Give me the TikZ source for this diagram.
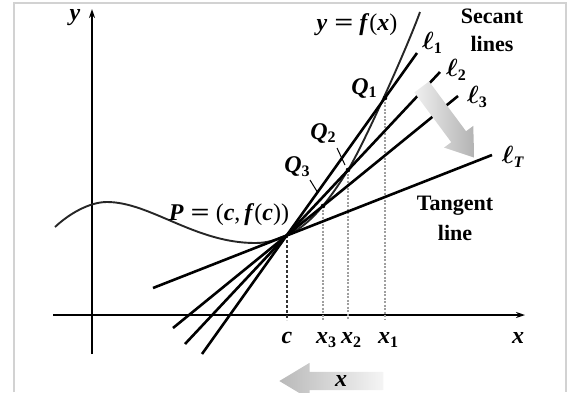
\documentclass[tikz,border=0pt]{standalone}
\usepackage{graphicx}
\usepackage{fontspec}
\setmainfont{Liberation Serif}
\usetikzlibrary{arrows.meta,shapes.arrows}
\newcommand{\mv}[1]{\textbf{\textit{#1}}}
\newcommand{\sbs}[1]{\raisebox{-0.35ex}{\fontsize{16}{16}\selectfont\textbf{#1}}}
\newcommand{\ellv}{{\boldmath$\ell$}}
\newcommand{\eqs}{\hspace{7pt}\scalebox{1.4}[1]{\textbf{=}}\hspace{6pt}}
\begin{document}
\begin{tikzpicture}[x=1pt,y=-1pt,font=\fontsize{24}{28}\selectfont,
  secant/.style={line width=2.6pt,black},
  axisline/.style={line width=1.7pt,black,-{Stealth[length=9pt,width=6pt]}},
  guide/.style={gray!75,line width=1.1pt,dash pattern=on 2pt off 1.5pt},
  cguide/.style={gray!40!black,line width=1.6pt,dash pattern=on 3pt off 2pt},
  curve/.style={gray!30!black,line width=1.9pt},
  lbl/.style={inner sep=0pt,font=\fontsize{24}{28}\selectfont},
  bigarrow/.style={single arrow,draw=none,inner sep=9pt,shade}]
\useasboundingbox (0,0) rectangle (579,392);
% frame
\draw[gray!35,line width=1.2pt] (14,392) -- (14,3) -- (566,3) -- (566,392);
% coordinates
\coordinate (P) at (287,235);
\coordinate (Q1) at (385,98);
\coordinate (Q2) at (348,170);
\coordinate (Q3) at (323,206);
\coordinate (fc) at (287,320);
\coordinate (f1) at (385,320);
\coordinate (f2) at (348,320);
\coordinate (f3) at (323,320);
\coordinate (xs) at (53,315);
\coordinate (xe) at (525,315);
\coordinate (ys) at (92,354);
\coordinate (ye) at (92,9);
\coordinate (l1a) at (202,354);
\coordinate (l1b) at (417,53);
\coordinate (l2a) at (185,344);
\coordinate (l2b) at (440,72);
\coordinate (l3a) at (173,328);
\coordinate (l3b) at (458,96);
\coordinate (lTa) at (153,288);
\coordinate (lTb) at (492,155);
% axes
\draw[axisline] (xs) -- (xe);
\draw[axisline] (ys) -- (ye);
% guides
\draw[cguide] (P) -- (fc);
\draw[guide] (Q1) -- (f1);
\draw[guide] (Q2) -- (f2);
\draw[guide] (Q3) -- (f3);
% curve
\draw[curve] (55,227) .. controls (70,213) and (90,202) .. (107,202)
  .. controls (150,202) and (195,243) .. (255,243)
  .. controls (268,243) and (274,240.1) .. (P)
  .. controls (312,225.2) and (333,194) .. (Q2)
  .. controls (363,146) and (408,45.6) .. (420,12);
% secant and tangent lines
\draw[secant] (l1a) -- (l1b);
\draw[secant] (l2a) -- (l2b);
\draw[secant] (l3a) -- (l3b);
\draw[secant] (lTa) -- (lTb);
% points
\fill (Q1) circle (2.3pt);
\fill (Q2) circle (2.3pt);
\fill (Q3) circle (2.3pt);
% big arrows
\node[bigarrow,name=sweep,left color=gray!12,right color=gray!60,
  minimum height=88pt,single arrow head extend=9pt,single arrow tip angle=70,
  rotate=-53.4] at (444,117) {};
\node[bigarrow,name=xmove,left color=gray!55,right color=gray!8,
  minimum height=104pt,single arrow head extend=9pt,single arrow tip angle=62,
  shape border rotate=180] at (339,381) {};
\node[lbl] (xmovelbl) at (341,381) {\mv{x}};
% labels
\node[lbl] (ylbl) at (75,18) {\mv{y}};
\node[lbl] (xlbl) at (518,338) {\mv{x}};
\node[lbl] (flbl) at (357,25) {\mv{y}\eqs\mv{f}(\mv{x})};
\node[lbl,align=center,font=\fontsize{22}{28}\selectfont\bfseries] (seclbl) at (492,30) {Secant\\lines};
\node[lbl,align=center,font=\fontsize{22}{30}\selectfont\bfseries] (tanlbl) at (455,218) {Tangent\\line};
\node[lbl] (l1lbl) at (432,43) {\ellv\sbs{1}};
\node[lbl] (l2lbl) at (456,70) {\ellv\sbs{2}};
\node[lbl] (l3lbl) at (477,97) {\ellv\sbs{3}};
\node[lbl] (lTlbl) at (513,157) {\ellv\raisebox{-0.35ex}{\fontsize{16}{16}\selectfont\mv{T}}};
\node[lbl] (Plbl) at (229,215) {\mv{P}\eqs(\mv{c},\hspace{4pt}\mv{f}(\mv{c}))};
\node[lbl] (Q1lbl) at (364,88) {\mv{Q}\sbs{1}};
\node[lbl] (Q2lbl) at (323,133) {\mv{Q}\sbs{2}};
\node[lbl] (Q3lbl) at (297,167) {\mv{Q}\sbs{3}};
\coordinate (t2a) at (337,148);
\coordinate (t2b) at (345,165);
\coordinate (t3a) at (310,180);
\coordinate (t3b) at (318,193);
\draw[line width=1pt] (t2a) -- (t2b);
\draw[line width=1pt] (t3a) -- (t3b);
\node[lbl] (clbl) at (287,338) {\mv{c}};
\node[lbl,anchor=west] (x3lbl) at (316,340) {\mv{x}\sbs{3}};
\node[lbl,anchor=west] (x2lbl) at (341,340) {\mv{x}\sbs{2}};
\node[lbl,anchor=west] (x1lbl) at (378,340) {\mv{x}\sbs{1}};
\end{tikzpicture}
\end{document}
